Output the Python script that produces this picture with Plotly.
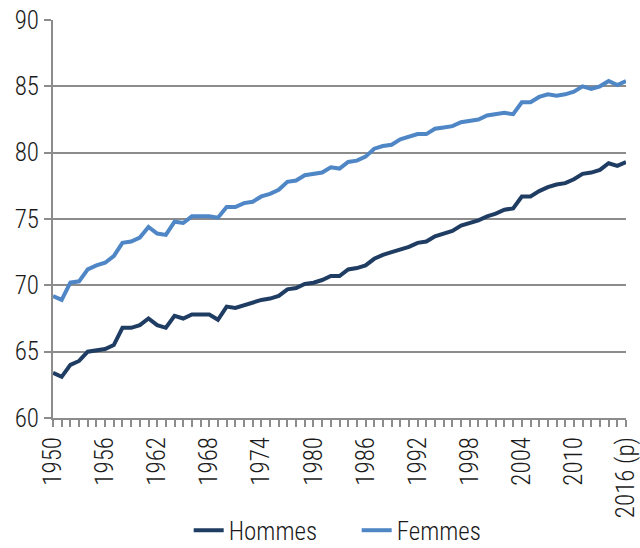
import plotly.graph_objects as go

years = list(range(1950, 2017))

hommes = [
    63.4, 63.1, 64.0, 64.3, 65.0, 65.1, 65.2, 65.5, 66.8, 66.8,
    67.0, 67.5, 67.0, 66.8, 67.7, 67.5, 67.8, 67.8, 67.8, 67.4,
    68.4, 68.3, 68.5, 68.7, 68.9, 69.0, 69.2, 69.7, 69.8, 70.1,
    70.2, 70.4, 70.7, 70.7, 71.2, 71.3, 71.5, 72.0, 72.3, 72.5,
    72.7, 72.9, 73.2, 73.3, 73.7, 73.9, 74.1, 74.5, 74.7, 74.9,
    75.2, 75.4, 75.7, 75.8, 76.7, 76.7, 77.1, 77.4, 77.6, 77.7,
    78.0, 78.4, 78.5, 78.7, 79.2, 79.0, 79.3,
]

femmes = [
    69.2, 68.9, 70.2, 70.3, 71.2, 71.5, 71.7, 72.2, 73.2, 73.3,
    73.6, 74.4, 73.9, 73.8, 74.8, 74.7, 75.2, 75.2, 75.2, 75.1,
    75.9, 75.9, 76.2, 76.3, 76.7, 76.9, 77.2, 77.8, 77.9, 78.3,
    78.4, 78.5, 78.9, 78.8, 79.3, 79.4, 79.7, 80.3, 80.5, 80.6,
    81.0, 81.2, 81.4, 81.4, 81.8, 81.9, 82.0, 82.3, 82.4, 82.5,
    82.8, 82.9, 83.0, 82.9, 83.8, 83.8, 84.2, 84.4, 84.3, 84.4,
    84.6, 85.0, 84.8, 85.0, 85.4, 85.1, 85.4,
]

# labels every 6 years, last year is provisional
tick_text = []
for y in years:
    if y == 2016:
        tick_text.append("2016 (p)")
    elif (y - 1950) % 6 == 0:
        tick_text.append(str(y))
    else:
        tick_text.append("")

FONT = "Roboto Condensed, Liberation Sans Narrow, sans-serif"
GRID = "#8c8c8c"

fig = go.Figure()
fig.add_trace(go.Scatter(x=years, y=hommes, mode="lines", name="Hommes",
                         line=dict(color="#1f3d63", width=4)))
fig.add_trace(go.Scatter(x=years, y=femmes, mode="lines", name="Femmes",
                         line=dict(color="#4f86c6", width=4)))

fig.update_layout(
    width=640,
    height=548,
    margin=dict(l=53, r=14, t=20, b=130),
    paper_bgcolor="white",
    plot_bgcolor="white",
    font=dict(family=FONT, size=25, color="#1a1a1a", weight=300),
    showlegend=True,
    legend=dict(orientation="h", x=0.53, xanchor="center",
                yref="container", y=0.032, yanchor="middle",
                entrywidth=123, entrywidthmode="pixels",
                font=dict(size=25, weight=300)),
    xaxis=dict(
        range=[1950, 2016],
        tickvals=years,
        ticktext=tick_text,
        tickangle=-90,
        ticklabeloverflow="allow",
        ticks="outside",
        ticklen=7,
        tickcolor=GRID,
        tickwidth=1.5,
        showgrid=False,
        showline=True,
        linecolor=GRID,
        linewidth=2,
        zeroline=False,
        automargin=False,
    ),
    yaxis=dict(
        range=[60, 90],
        tickvals=[60, 65, 70, 75, 80, 85, 90],
        ticks="outside",
        ticklen=7,
        tickcolor=GRID,
        tickwidth=1.5,
        showgrid=True,
        gridcolor=GRID,
        gridwidth=1.5,
        showline=True,
        linecolor=GRID,
        linewidth=2,
        zeroline=False,
        automargin=False,
    ),
)

# page body has a default 8px margin, drop it so the figure fills the window
fig.write_html("out.html", config={"displayModeBar": False},
               post_script="document.body.style.margin='0';")
